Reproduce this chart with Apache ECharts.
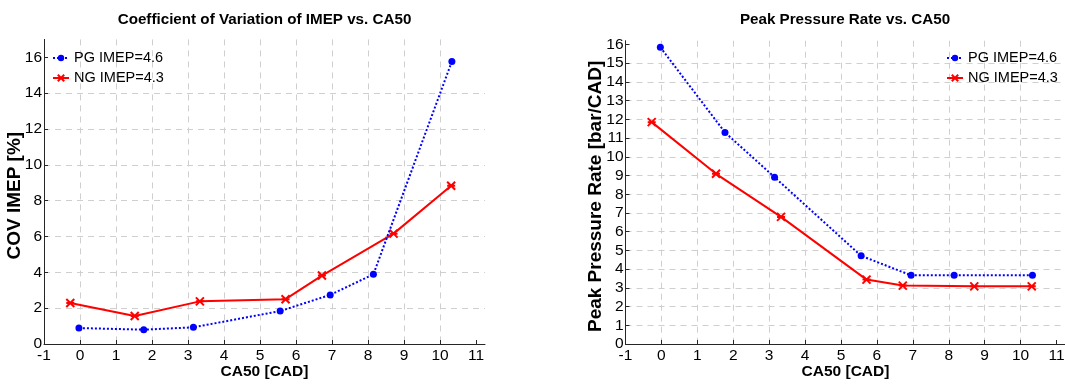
<!DOCTYPE html>
<html>
<head>
<meta charset="utf-8">
<script src="https://cdn.jsdelivr.net/npm/echarts@6/dist/echarts.min.js"></script>
<style>
html,body{margin:0;padding:0;background:#fff;}
#chart{width:1065px;height:384px;}
</style>
</head>
<body>
<div id="chart"></div>
<script>
// ---- data ----
const ca50_pg = [-0.03, 1.77, 3.15, 5.56, 6.95, 8.15, 10.33];
const ca50_ng = [-0.27, 1.52, 3.33, 5.71, 6.72, 8.71, 10.31];
const cov_pg = [0.89, 0.80, 0.93, 1.84, 2.74, 3.89, 15.77];
const cov_ng = [2.29, 1.56, 2.38, 2.50, 3.82, 6.16, 8.83];
const ppr_pg = [15.85, 11.30, 8.91, 4.71, 3.67, 3.67, 3.67];
const ppr_ng = [11.85, 9.09, 6.79, 3.44, 3.12, 3.08, 3.08];
const xTicks = [-1, 0, 1, 2, 3, 4, 5, 6, 7, 8, 9, 10, 11];
const covTicks = [0, 2, 4, 6, 8, 10, 12, 14, 16];
const pprTicks = [0, 1, 2, 3, 4, 5, 6, 7, 8, 9, 10, 11, 12, 13, 14, 15, 16];
const nameA = 'PG IMEP=4.6';
const nameB = 'NG IMEP=4.3';
const titleLeft = 'Coefficient of Variation of IMEP vs. CA50';
const titleRight = 'Peak Pressure Rate vs. CA50';

const FONT = "'Liberation Sans', Arial, sans-serif";
const BLUE = '#0000ff', RED = '#ff0000';
const ASTER = 'path://M0,0L10,10M10,0L0,10M0,5L10,5';

const pairs = (xs, ys) => xs.map((x, i) => [x, ys[i]]);

const chart = echarts.init(document.getElementById('chart'), null, {renderer: 'canvas'});

function xAxisCfg(gi) {
  return {
    gridIndex: gi, type: 'value', min: -1, max: 11.25, interval: 1,
    name: 'CA50 [CAD]', nameLocation: 'middle', nameGap: 20, nameMoveOverlap: false,
    nameTextStyle: {fontFamily: FONT, fontWeight: 'bold', fontSize: 15.5, color: '#000'},
    axisLine: {show: true, onZero: false, lineStyle: {color: '#262626', width: 1}},
    axisTick: {show: true, inside: true, length: 4, lineStyle: {color: '#262626'}, customValues: xTicks},
    axisLabel: {fontFamily: FONT, fontSize: 15.5, color: '#000', margin: 4, customValues: xTicks},
    splitLine: {show: true, showMaxLine: false, lineStyle: {color: '#cfcfcf', type: [6, 5], width: 1}}
  };
}
function yAxisCfg(gi, max, interval, ticks, name) {
  return {
    gridIndex: gi, type: 'value', min: 0, max: max, interval: interval,
    name: name, nameLocation: 'middle', nameGap: 20, nameRotate: 90, nameMoveOverlap: false,
    nameTextStyle: {fontFamily: FONT, fontWeight: 'bold', fontSize: 19, color: '#000', padding: [0, 8, 0, 0]},
    axisLine: {show: true, onZero: false, lineStyle: {color: '#262626', width: 1}},
    axisTick: {show: true, inside: true, length: 4, lineStyle: {color: '#262626'}, customValues: ticks},
    axisLabel: {fontFamily: FONT, fontSize: 15.5, color: '#000', margin: 2, customValues: ticks},
    splitLine: {show: true, showMaxLine: false, lineStyle: {color: '#cfcfcf', type: [6, 5], width: 1}}
  };
}
function pgSeries(xi, data) {
  return {
    name: nameA, type: 'line', xAxisIndex: xi, yAxisIndex: xi, data: data,
    symbol: 'circle', symbolSize: 7, showAllSymbol: true,
    lineStyle: {color: BLUE, width: 2, type: 'dotted'},
    itemStyle: {color: BLUE}, z: 3
  };
}
function ngSeries(xi, data) {
  return {
    name: nameB, type: 'line', xAxisIndex: xi, yAxisIndex: xi, data: data,
    symbol: ASTER, symbolSize: 8, showAllSymbol: true,
    lineStyle: {color: RED, width: 2, type: 'solid'},
    itemStyle: {color: RED, borderColor: RED, borderWidth: 2}, z: 2
  };
}
function legendCfg(left) {
  return {
    orient: 'vertical', left: left, top: 48, padding: 0,
    itemWidth: 16, itemHeight: 8, itemGap: 0,
    data: [nameA, nameB], selectedMode: false,
    textStyle: {fontFamily: FONT, fontSize: 14.5, color: '#000', lineHeight: 20}
  };
}

chart.setOption({
  animation: false,
  backgroundColor: '#fff',
  title: [
    {text: titleLeft, left: 264.5, top: 12, textAlign: 'center', padding: 0,
     textStyle: {fontFamily: FONT, fontWeight: 'bold', fontSize: 15.2, color: '#000'}},
    {text: titleRight, left: 845, top: 12, textAlign: 'center', padding: 0,
     textStyle: {fontFamily: FONT, fontWeight: 'bold', fontSize: 15.2, color: '#000'}}
  ],
  legend: [legendCfg(52), legendCfg(946)],
  grid: [
    {left: 44, top: 39.4, width: 441, height: 304.6, containLabel: false, outerBoundsMode: 'none'},
    {left: 625.5, top: 40.7, width: 440, height: 303.3, containLabel: false, outerBoundsMode: 'none'}
  ],
  xAxis: [xAxisCfg(0), xAxisCfg(1)],
  yAxis: [
    yAxisCfg(0, 17, 2, covTicks, 'COV IMEP [%]'),
    yAxisCfg(1, 16.2, 1, pprTicks, 'Peak Pressure Rate [bar/CAD]')
  ],
  series: [
    pgSeries(0, pairs(ca50_pg, cov_pg)),
    ngSeries(0, pairs(ca50_ng, cov_ng)),
    pgSeries(1, pairs(ca50_pg, ppr_pg)),
    ngSeries(1, pairs(ca50_ng, ppr_ng))
  ]
});
</script>
</body>
</html>
